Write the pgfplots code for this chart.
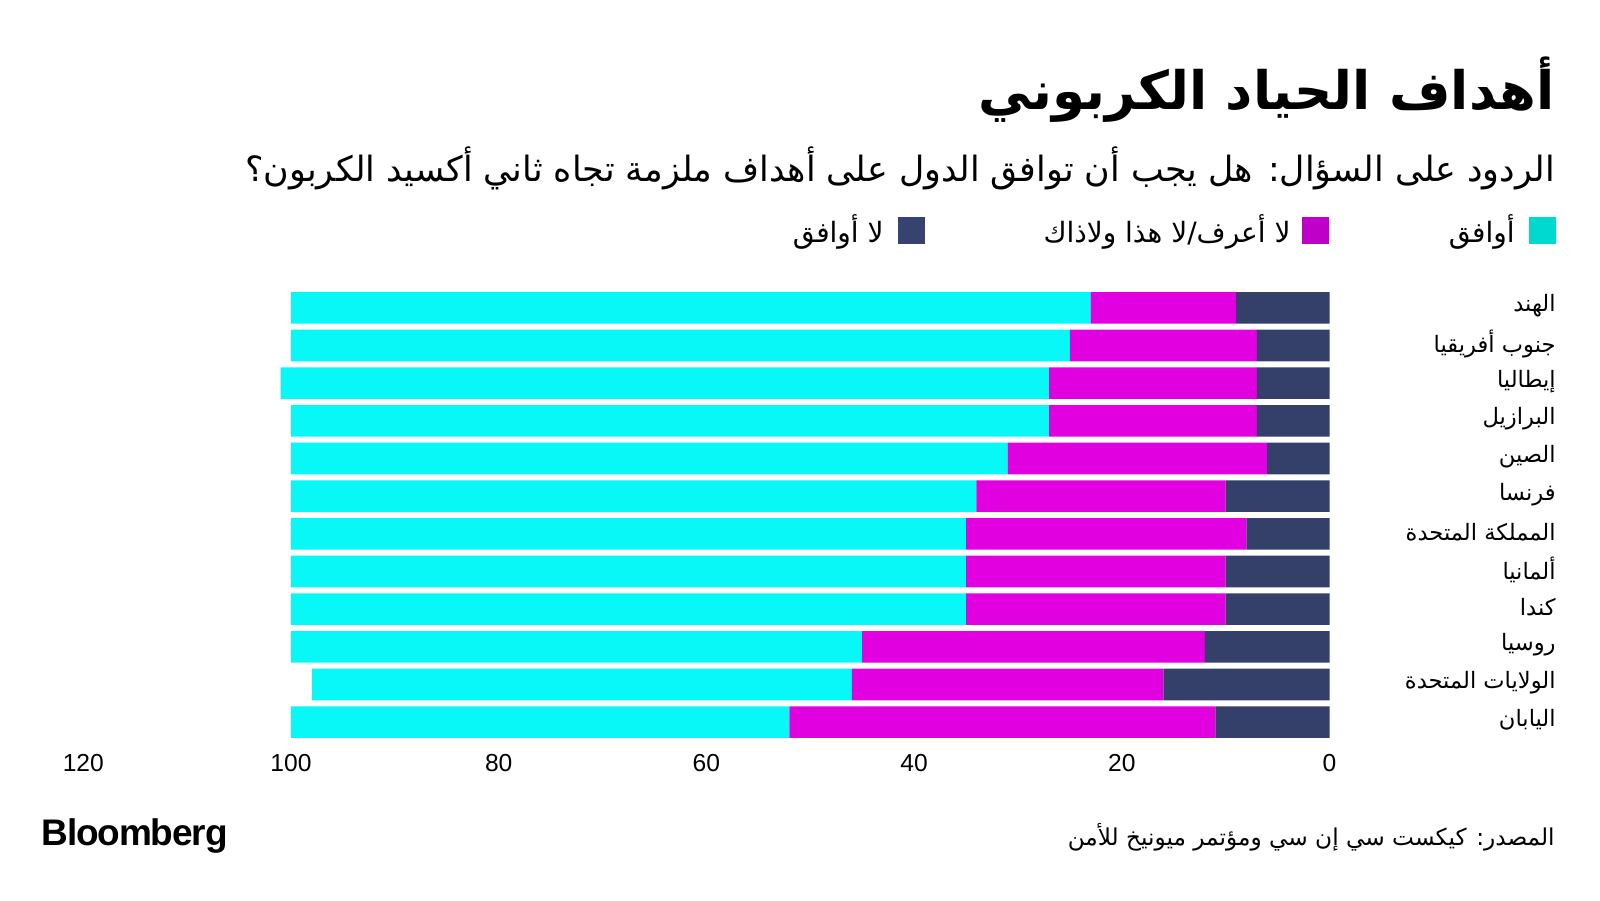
\documentclass[border=0pt]{standalone}
\usepackage{fontspec}
\setmainfont{Liberation Sans}
\newfontfamily\arabicfont[Script=Arabic]{DejaVu Sans}
\TeXXeTstate=1
\usepackage{pgfplots}
\pgfplotsset{compat=1.18}
\definecolor{cyanbar}{RGB}{8,247,247}
\definecolor{magbar}{RGB}{224,0,224}
\definecolor{navybar}{RGB}{52,64,106}
\definecolor{cyanleg}{RGB}{0,217,207}
\definecolor{magleg}{RGB}{190,0,200}
\definecolor{navyleg}{RGB}{54,66,112}
\begin{document}
\begin{tikzpicture}
\path[fill=white,use as bounding box] (0,0) rectangle (800pt,-450pt);
% title
\node[anchor=east,inner sep=0pt,font=\arabicfont\bfseries\fontsize{26.5}{30}\selectfont] at (777.5pt,-45pt) {\beginR أهداف الحياد الكربوني\endR};
\node[anchor=east,inner sep=0pt,font=\arabicfont\fontsize{17.4}{20}\selectfont] at (777.5pt,-84pt) {\beginR الردود على السؤال: هل يجب أن توافق الدول على أهداف ملزمة تجاه ثاني أكسيد الكربون؟\endR};
% legend
\fill[cyanleg] (764.5pt,-108.5pt) rectangle (778pt,-122pt);
\node[anchor=east,inner sep=0pt,font=\arabicfont\fontsize{14}{16}\selectfont] at (757.5pt,-116pt) {\beginR أوافق\endR};
\fill[magleg] (651pt,-108.5pt) rectangle (664.5pt,-122pt);
\node[anchor=east,inner sep=0pt,font=\arabicfont\fontsize{14}{16}\selectfont] at (645.5pt,-116pt) {\beginR لا أعرف/لا هذا ولاذاك\endR};
\fill[navyleg] (449pt,-108.5pt) rectangle (462.5pt,-122pt);
\node[anchor=east,inner sep=0pt,font=\arabicfont\fontsize{14}{16}\selectfont] at (442pt,-116pt) {\beginR لا أوافق\endR};
\begin{axis}[
  at={(41.65pt,-144.5pt)}, anchor=north west,
  scale only axis, width=623.1pt, height=226pt,
  xbar stacked, bar width=15.8pt,
  xmin=0, xmax=120, x dir=reverse,
  ymin=-0.5, ymax=11.5, y dir=reverse,
  xtick={0,20,40,60,80,100,120},
  ytick={0,1,2,3,4,5,6,7,8,9,10,11},
  yticklabel pos=right,
  yticklabels={{\beginR الهند\endR},{\beginR جنوب أفريقيا\endR},{\beginR إيطاليا\endR},{\beginR البرازيل\endR},{\beginR الصين\endR},{\beginR فرنسا\endR},{\beginR المملكة المتحدة\endR},{\beginR ألمانيا\endR},{\beginR كندا\endR},{\beginR روسيا\endR},{\beginR الولايات المتحدة\endR},{\beginR اليابان\endR}},
  yticklabel style={anchor=east, xshift=116.6pt, yshift=1pt, font=\arabicfont\fontsize{11.3}{13}\selectfont},
  xticklabel style={font=\fontsize{12.3}{14}\selectfont, yshift=-3pt},
  /pgf/number format/assume math mode=true,
  axis line style={draw=none}, tick style={draw=none},
  clip=false,
]
\addplot[fill=navybar, draw=none] coordinates {(9,0) (7,1) (7,2) (7,3) (6,4) (10,5) (8,6) (10,7) (10,8) (12,9) (16,10) (11,11)};
\addplot[fill=magbar, draw=none] coordinates {(14,0) (18,1) (20,2) (20,3) (25,4) (24,5) (27,6) (25,7) (25,8) (33,9) (30,10) (41,11)};
\addplot[fill=cyanbar, draw=none] coordinates {(77,0) (75,1) (74,2) (73,3) (69,4) (66,5) (65,6) (65,7) (65,8) (55,9) (52,10) (48,11)};
\end{axis}
% footer
\node[anchor=west,inner sep=0pt,font=\bfseries\fontsize{18.5}{21}\selectfont\addfontfeature{LetterSpace=-3}] at (20.5pt,-418pt) {Bloomberg};
\node[anchor=east,inner sep=0pt,font=\arabicfont\fontsize{11.6}{14}\selectfont] at (777.5pt,-418.5pt) {\beginR المصدر: كيكست سي إن سي ومؤتمر ميونيخ للأمن\endR};
\end{tikzpicture}
\end{document}
